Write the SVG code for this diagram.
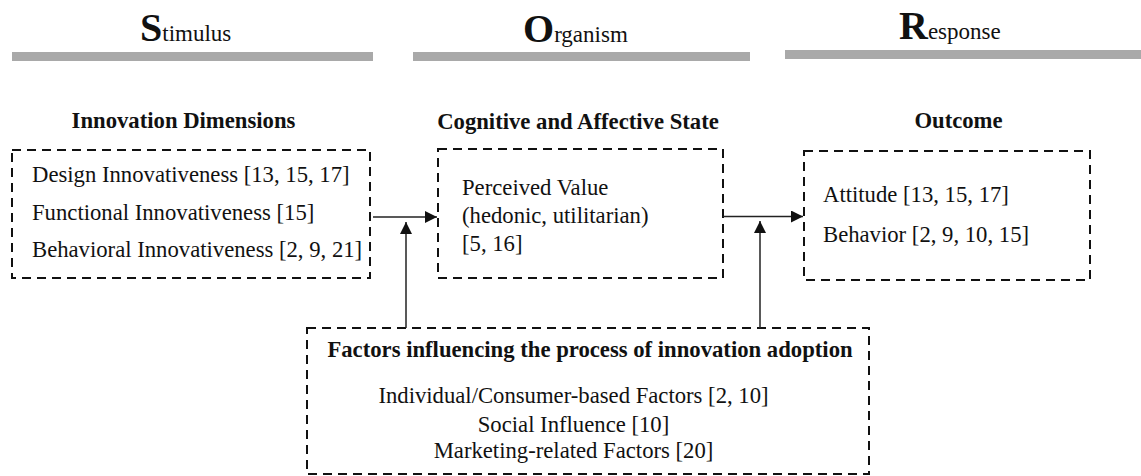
<svg xmlns="http://www.w3.org/2000/svg" width="1141" height="476" viewBox="0 0 1141 476">
<style>
text{font-family:"Liberation Serif","Times New Roman",serif;fill:#111}
.big{font-weight:bold;font-size:40px}
.small{font-size:23px}
.hdr{font-weight:bold;font-size:22.7px;text-anchor:middle}
.txt{font-size:22.7px}
.mid{text-anchor:middle}
.bar{fill:#a9a9a9}
.box{fill:none;stroke:#111;stroke-width:2;stroke-dasharray:9 6}
.conn{stroke:#222;stroke-width:1.5;fill:none}
</style>
<defs>
<marker id="ah" viewBox="0 0 12 12" refX="12" refY="6" markerWidth="12" markerHeight="12" markerUnits="userSpaceOnUse" orient="auto">
<path d="M0,0 L12,6 L0,12 Z" fill="#111"/>
</marker>
</defs>
<g id="titles">
<text x="140" y="41"><tspan class="big">S</tspan><tspan class="small">timulus</tspan></text>
<rect class="bar" x="12" y="52" width="361" height="9"/>
<text x="523" y="42"><tspan class="big">O</tspan><tspan class="small">rganism</tspan></text>
<rect class="bar" x="413" y="52" width="337" height="9"/>
<text x="899" y="39"><tspan class="big">R</tspan><tspan class="small">esponse</tspan></text>
<rect class="bar" x="785" y="50" width="356" height="9"/>
</g>
<g id="stimulus">
<text class="hdr" x="183.5" y="128">Innovation Dimensions</text>
<rect class="box" x="12" y="150" width="358" height="128"/>
<text class="txt" x="32" y="182">Design Innovativeness [13, 15, 17]</text>
<text class="txt" x="32" y="219.5">Functional Innovativeness [15]</text>
<text class="txt" x="32" y="257">Behavioral Innovativeness [2, 9, 21]</text>
</g>
<g id="organism">
<text class="hdr" x="578" y="129">Cognitive and Affective State</text>
<rect class="box" x="438" y="149" width="285" height="129"/>
<text class="txt" x="462" y="195">Perceived Value</text>
<text class="txt" x="462" y="223">(hedonic, utilitarian)</text>
<text class="txt" x="462" y="251">[5, 16]</text>
</g>
<g id="response">
<text class="hdr" x="958.5" y="128">Outcome</text>
<rect class="box" x="804" y="151" width="286" height="129"/>
<text class="txt" x="823" y="202">Attitude [13, 15, 17]</text>
<text class="txt" x="823" y="242">Behavior [2, 9, 10, 15]</text>
</g>
<g id="factors">
<rect class="box" x="307" y="328" width="562" height="146"/>
<text class="hdr" x="590" y="357">Factors influencing the process of innovation adoption</text>
<text class="txt mid" x="573.5" y="403">Individual/Consumer-based Factors [2, 10]</text>
<text class="txt mid" x="573.5" y="432">Social Influence [10]</text>
<text class="txt mid" x="573.5" y="458">Marketing-related Factors [20]</text>
</g>
<g id="connectors">
<line class="conn" x1="373" y1="217" x2="437" y2="217" marker-end="url(#ah)"/>
<line class="conn" x1="723" y1="216.5" x2="803" y2="216.5" marker-end="url(#ah)"/>
<line class="conn" x1="406" y1="328" x2="406" y2="222" marker-end="url(#ah)"/>
<line class="conn" x1="760" y1="328" x2="760" y2="221" marker-end="url(#ah)"/>
</g>
</svg>
